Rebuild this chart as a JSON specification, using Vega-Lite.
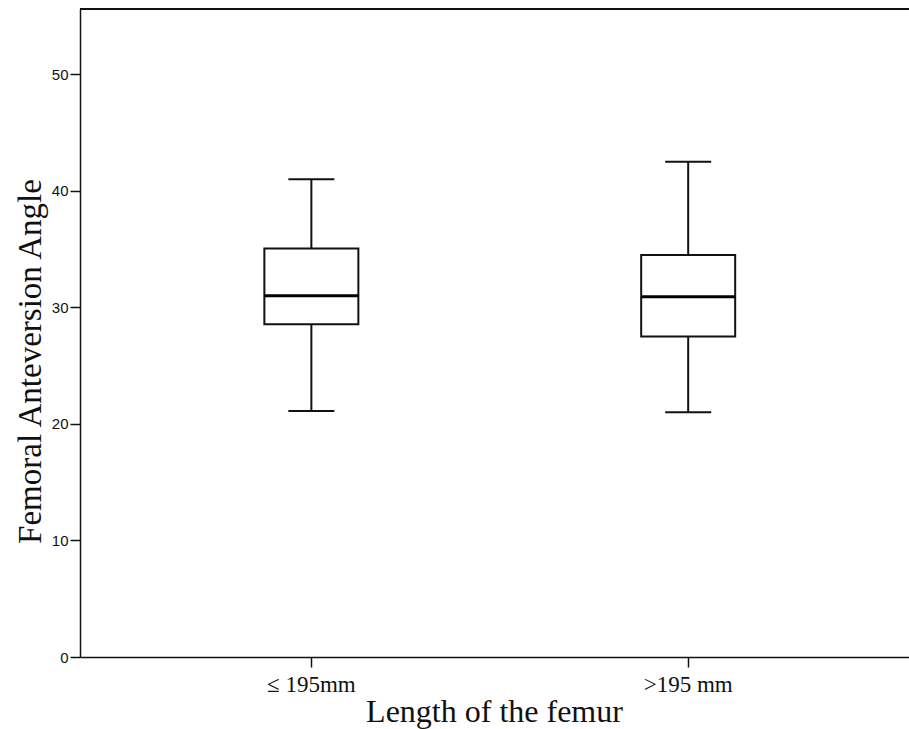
{
  "$schema": "https://vega.github.io/schema/vega-lite/v6.json",
  "autosize": "none",
  "padding": {"left": 80, "top": 9, "right": 0, "bottom": 72},
  "width": 829,
  "height": 648,
  "background": "white",
  "config": {
    "view": {"stroke": null},
    "axis": {"grid": false, "domainColor": "#111", "tickColor": "#111", "domainWidth": 1.5, "tickWidth": 1.5, "labelColor": "#111", "titleColor": "#111", "titleFontWeight": "normal"}
  },
  "data": {
    "values": [
      {"group": "≤ 195mm", "min": 21.1, "q1": 28.55, "median": 31.0, "q3": 35.05, "max": 41.0},
      {"group": ">195 mm", "min": 21.0, "q1": 27.5, "median": 30.9, "q3": 34.5, "max": 42.5}
    ]
  },
  "encoding": {
    "x": {
      "field": "group", "type": "nominal", "sort": null,
      "scale": {"paddingInner": 0.5, "paddingOuter": 0.35, "align": 0.52},
      "axis": {
        "title": "Length of the femur", "labelAngle": 0,
        "labelFont": "Liberation Serif", "labelFontSize": 23,
        "labelBaseline": "alphabetic", "labelPadding": 24, "tickSize": 10,
        "titleFont": "Liberation Serif", "titleFontSize": 32,
        "titleBaseline": "alphabetic", "titleY": 64, "titleX": 414
      }
    }
  },
  "layer": [
    {
      "mark": {"type": "rule", "color": "#111", "strokeWidth": 2},
      "encoding": {
        "y": {"field": "min", "type": "quantitative", "scale": {"domain": [0, 55.6], "nice": false},
          "axis": {
            "title": "Femoral Anteversion Angle", "values": [0, 10, 20, 30, 40, 50],
            "labelFont": "Liberation Sans", "labelFontSize": 15, "tickSize": 10, "labelPadding": 2,
            "titleFont": "Liberation Serif", "titleFontSize": 33,
            "titleBaseline": "alphabetic", "titleX": -40, "titleY": 352, "titleAngle": -90, "titleAlign": "center"
          }
        },
        "y2": {"field": "q1"}
      }
    },
    {
      "mark": {"type": "rule", "color": "#111", "strokeWidth": 2},
      "encoding": {
        "y": {"field": "q3", "type": "quantitative"},
        "y2": {"field": "max"}
      }
    },
    {
      "mark": {"type": "bar", "size": 94, "fill": "white", "stroke": "#111", "strokeWidth": 2},
      "encoding": {
        "y": {"field": "q1", "type": "quantitative"},
        "y2": {"field": "q3"}
      }
    },
    {
      "mark": {"type": "tick", "size": 94, "thickness": 3, "color": "#000", "opacity": 1},
      "encoding": {"y": {"field": "median", "type": "quantitative"}}
    },
    {
      "mark": {"type": "tick", "size": 46, "thickness": 2, "color": "#111", "opacity": 1},
      "encoding": {"y": {"field": "min", "type": "quantitative"}}
    },
    {
      "mark": {"type": "tick", "size": 46, "thickness": 2, "color": "#111", "opacity": 1},
      "encoding": {"y": {"field": "max", "type": "quantitative"}}
    },
    {
      "data": {"values": [{"top": 55.6}]},
      "mark": {"type": "rule", "color": "#111", "strokeWidth": 2},
      "encoding": {"y": {"field": "top", "type": "quantitative"}, "x": null}
    }
  ]
}
